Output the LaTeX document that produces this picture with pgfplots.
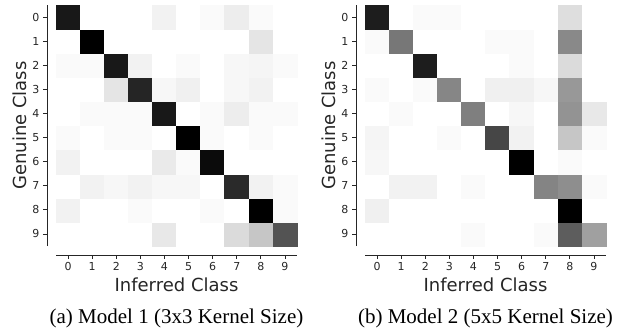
\documentclass[border=0pt]{standalone}
\usepackage{pgfplots}
\pgfplotsset{compat=1.18}
\usepackage{fontspec}
\setmainfont{Liberation Serif}
\newfontfamily\dejavu{DejaVu Sans}
\definecolor{axgray}{gray}{0.15}

% columns: x (inferred), y (9 - genuine), z (darkness)
\pgfplotstableread{
x y z
0 0 0
1 0 0
2 0 0
3 0 0
4 0 0.09
5 0 0
6 0 0
7 0 0.14
8 0 0.22
9 0 0.67
0 1 0.05
1 1 0
2 1 0
3 1 0.02
4 1 0
5 1 0
6 1 0.02
7 1 0
8 1 1.00
9 1 0.02
0 2 0
1 2 0.05
2 2 0.03
3 2 0.05
4 2 0.03
5 2 0.03
6 2 0
7 2 0.83
8 2 0.05
9 2 0.02
0 3 0.05
1 3 0
2 3 0
3 3 0
4 3 0.08
5 3 0.02
6 3 0.95
7 3 0
8 3 0
9 3 0
0 4 0.02
1 4 0
2 4 0.02
3 4 0.02
4 4 0
5 4 1.00
6 4 0.02
7 4 0
8 4 0.02
9 4 0
0 5 0
1 5 0.02
2 5 0.02
3 5 0.02
4 5 0.90
5 5 0
6 5 0.02
7 5 0.07
8 5 0.02
9 5 0.02
0 6 0
1 6 0
2 6 0.10
3 6 0.85
4 6 0.03
5 6 0.06
6 6 0
7 6 0.03
8 6 0.05
9 6 0
0 7 0.02
1 7 0.02
2 7 0.90
3 7 0.05
4 7 0
5 7 0.02
6 7 0
7 7 0.03
8 7 0.04
9 7 0.02
0 8 0
1 8 1.00
2 8 0
3 8 0
4 8 0
5 8 0
6 8 0
7 8 0
8 8 0.10
9 8 0
0 9 0.90
1 9 0
2 9 0
3 9 0
4 9 0.05
5 9 0
6 9 0.02
7 9 0.07
8 9 0.02
9 9 0
}\modelA

\pgfplotstableread{
x y z
0 0 0
1 0 0
2 0 0
3 0 0
4 0 0.02
5 0 0
6 0 0
7 0 0.02
8 0 0.63
9 0 0.37
0 1 0.06
1 1 0
2 1 0
3 1 0
4 1 0
5 1 0
6 1 0
7 1 0
8 1 1.00
9 1 0
0 2 0
1 2 0.05
2 2 0.05
3 2 0
4 2 0.02
5 2 0
6 2 0
7 2 0.48
8 2 0.44
9 2 0.02
0 3 0.03
1 3 0
2 3 0
3 3 0
4 3 0
5 3 0
6 3 1.00
7 3 0
8 3 0.02
9 3 0
0 4 0.04
1 4 0
2 4 0
3 4 0.02
4 4 0
5 4 0.72
6 4 0.05
7 4 0
8 4 0.22
9 4 0.02
0 5 0
1 5 0.02
2 5 0
3 5 0
4 5 0.50
5 5 0
6 5 0.03
7 5 0
8 5 0.42
9 5 0.09
0 6 0.02
1 6 0
2 6 0.02
3 6 0.47
4 6 0
5 6 0.06
6 6 0.06
7 6 0.03
8 6 0.40
9 6 0
0 7 0
1 7 0
2 7 0.88
3 7 0
4 7 0
5 7 0
6 7 0.02
7 7 0
8 7 0.14
9 7 0
0 8 0.02
1 8 0.53
2 8 0
3 8 0
4 8 0
5 8 0.02
6 8 0.02
7 8 0
8 8 0.46
9 8 0
0 9 0.88
1 9 0
2 9 0.02
3 9 0.02
4 9 0
5 9 0
6 9 0
7 9 0
8 9 0.13
9 9 0
}\modelB

\pgfplotsset{
  cm/.style={
    width=241pt, height=241pt, scale only axis,
    xmin=-0.5, xmax=9.5, ymin=-0.5, ymax=9.5,
    enlargelimits=false, clip=false,
    axis lines=left,
    axis line style={-, axgray, line width=0.9pt},
    axis x line shift=9pt,
    axis y line shift=9pt,
    tick align=outside,
    major tick length=4pt,
    tick style={axgray, line width=0.8pt},
    xtick={0,...,9}, ytick={0,...,9},
    xticklabels={0,1,2,3,4,5,6,7,8,9},
    yticklabels={9,8,7,6,5,4,3,2,1,0},
    ticklabel style={font=\dejavu\fontsize{11}{13}\selectfont, text=axgray},
    colormap={wb}{color=(white) color=(black)},
    point meta min=0, point meta max=1,
    xlabel={Inferred Class},
    ylabel={Genuine Class},
    xlabel style={at={(axis description cs:0.5,-0.162)}, anchor=center, font=\dejavu\fontsize{18}{21}\selectfont, text=axgray},
    ylabel style={at={(axis description cs:-0.149,0.5)}, anchor=center, font=\dejavu\fontsize{18}{21}\selectfont, text=axgray},
  }
}

\begin{document}
\begin{tikzpicture}
\useasboundingbox (-56pt,-89pt) rectangle (579pt,246pt);
\begin{axis}[cm, name=a1]
\addplot[matrix plot*, mesh/cols=10, point meta=explicit] table[x=x, y=y, meta=z] {\modelA};
\node[font=\fontsize{21}{24}\selectfont] at (axis description cs:0.5,-0.299) {(a) Model 1 (3x3 Kernel Size)};
\end{axis}
\begin{axis}[cm, xshift=309pt]
\addplot[matrix plot*, mesh/cols=10, point meta=explicit] table[x=x, y=y, meta=z] {\modelB};
\node[font=\fontsize{21}{24}\selectfont] at (axis description cs:0.5,-0.299) {(b) Model 2 (5x5 Kernel Size)};
\end{axis}
\end{tikzpicture}
\end{document}
